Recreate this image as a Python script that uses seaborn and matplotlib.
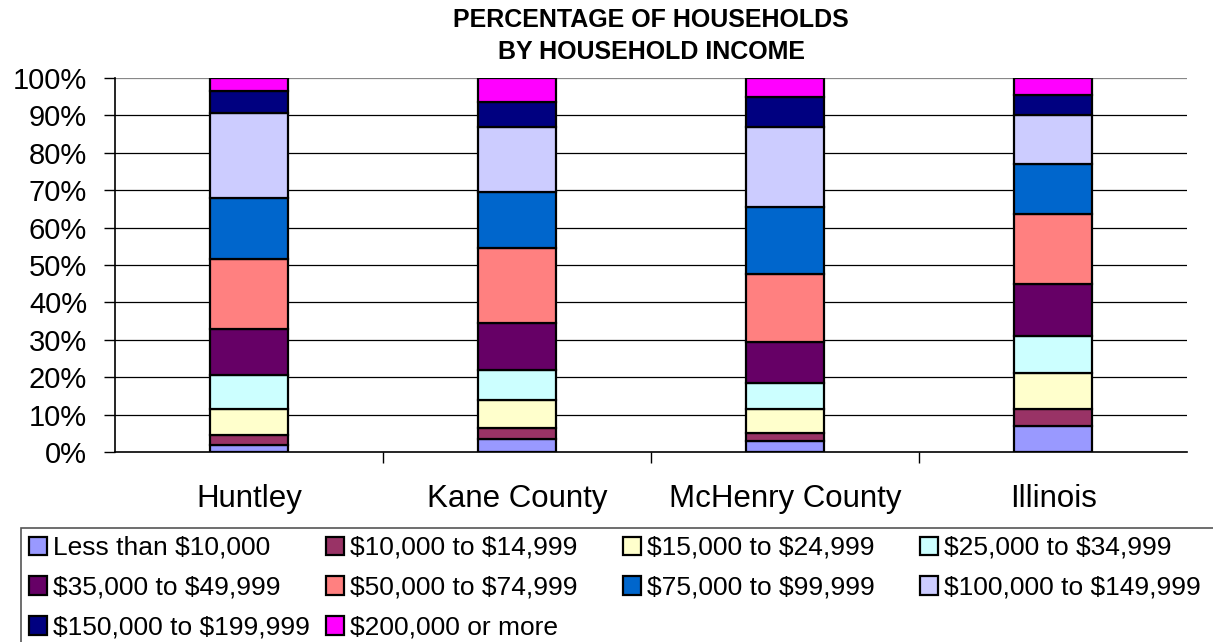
import numpy as np
import pandas as pd
import seaborn as sns
import matplotlib
matplotlib.use("Agg")
import matplotlib.pyplot as plt
from matplotlib.patches import Rectangle
from matplotlib.ticker import FuncFormatter, FixedLocator

areas = ["Huntley", "Kane County", "McHenry County", "Illinois"]

brackets = [
    "Less than $10,000", "$10,000 to $14,999", "$15,000 to $24,999", "$25,000 to $34,999",
    "$35,000 to $49,999", "$50,000 to $74,999", "$75,000 to $99,999", "$100,000 to $149,999",
    "$150,000 to $199,999", "$200,000 or more",
]

# share of households (%) per bracket, one list per area
huntley = [1.8, 2.8, 6.9, 9.2, 12.1, 18.8, 16.3, 22.7, 6.0, 3.4]
kane = [3.4, 3.0, 7.4, 8.1, 12.7, 20.0, 15.0, 17.2, 6.9, 6.3]
mchenry = [2.9, 2.3, 6.3, 6.9, 10.9, 18.4, 17.9, 21.2, 8.1, 5.1]
illinois = [6.9, 4.6, 9.7, 9.9, 13.7, 18.8, 13.4, 13.2, 5.3, 4.5]

colors = ["#9999FF", "#993366", "#FFFFCC", "#CCFFFF", "#660066",
          "#FF8080", "#0066CC", "#CCCCFF", "#000080", "#FF00FF"]

df = pd.DataFrame({"Huntley": huntley, "Kane County": kane,
                   "McHenry County": mchenry, "Illinois": illinois}, index=brackets)

sns.set_theme(style="white")
plt.rcParams['font.family'] = ['Liberation Sans', 'DejaVu Sans']
plt.rcParams['text.parse_math'] = False
plt.rcParams['text.color'] = 'black'
plt.rcParams['xtick.color'] = 'black'
plt.rcParams['ytick.color'] = 'black'

W, H = 1213, 642
fig = plt.figure(figsize=(W / 100, H / 100), dpi=100)
ax = fig.add_axes([0.0948, 0.296, 0.884, 0.5825])

# gridlines first so bars sit on top
for v in range(10, 101, 10):
    ax.axhline(v, color='black' if v < 100 else '#888888', lw=0.9, zorder=0)

bottom = np.zeros(len(areas))
for bracket, col in zip(brackets, colors):
    vals = df.loc[bracket, areas].values
    sns.barplot(x=areas, y=vals, bottom=bottom, color=col, saturation=1, width=0.29,
                edgecolor='black', linewidth=1.6, errorbar=None, label=bracket, ax=ax, zorder=2)
    bottom = bottom + vals

ax.set_xlim(-0.5, 3.5)
ax.set_ylim(0, 100)
ax.set_yticks(range(0, 101, 10))
ax.yaxis.set_major_formatter(FuncFormatter(lambda x, pos: f"{x:.0f}%"))
ax.xaxis.set_minor_locator(FixedLocator([0.5, 1.5, 2.5]))
ax.tick_params(axis='x', which='major', length=0, pad=23, labelsize=22.5)
ax.tick_params(axis='x', which='minor', length=8, width=1, color='black', direction='out', bottom=True)
ax.tick_params(axis='y', length=8, width=1, color='black', direction='out', left=True, pad=12, labelsize=21)
for s in ['top', 'right']:
    ax.spines[s].set_visible(False)
for s in ['left', 'bottom']:
    ax.spines[s].set_color('black')
    ax.spines[s].set_linewidth(1.2)
ax.set_xlabel('')
ax.set_ylabel('')

fig.text(651 / W, 1 - 8 / H, "PERCENTAGE OF HOUSEHOLDS\nBY HOUSEHOLD INCOME", ha='center', va='top',
         fontsize=18, fontweight='bold', linespacing=1.4)

# legend: one single-column legend per column so the columns sit on an even grid
handles, labels = ax.get_legend_handles_labels()
if ax.get_legend() is not None:
    ax.get_legend().remove()
col_x = [29, 326, 623, 920]
for j, x in enumerate(col_x):
    idx = list(range(j, len(brackets), 4))
    fig.legend([handles[i] for i in idx], [labels[i] for i in idx], ncol=1,
               loc='upper left', bbox_to_anchor=(x / W, 1 - 536 / H), fontsize=19,
               frameon=False, handlelength=0.7, handleheight=0.7, handletextpad=0.2,
               labelspacing=0.6, borderpad=0, borderaxespad=0)
fig.patches.append(Rectangle((21 / W, -0.05), 1.0, (H - 528) / H + 0.05, transform=fig.transFigure,
                             fill=False, edgecolor='#555555', lw=1.2))

fig.savefig("out.png", dpi=100)
